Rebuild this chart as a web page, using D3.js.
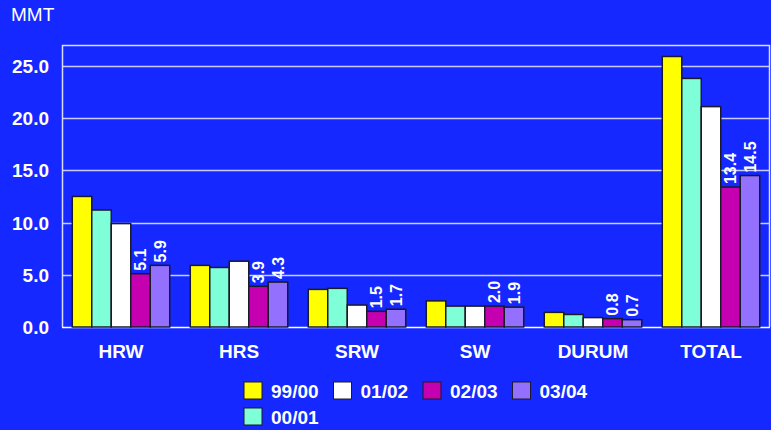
<!DOCTYPE html>
<html>
<head>
<meta charset="utf-8">
<script src="https://cdn.jsdelivr.net/npm/d3@7"></script>
<style>
  html, body { margin: 0; padding: 0; background: #1428FF; }
  svg { display: block; font-family: "Liberation Sans", Arial, sans-serif; }
</style>
</head>
<body>
<svg id="chart" width="771" height="430"></svg>
<script>
// Wheat classes and marketing years
const categories = ["HRW", "HRS", "SRW", "SW", "DURUM", "TOTAL"];
const seasons = ["99/00", "00/01", "01/02", "02/03", "03/04"];

// Values in million metric tons, one array per season
const v9900 = [12.5, 5.9, 3.6, 2.5, 1.4, 25.9];
const v0001 = [11.2, 5.7, 3.7, 2.0, 1.2, 23.8];
const v0102 = [9.9, 6.3, 2.1, 2.0, 0.9, 21.1];
const v0203 = [5.1, 3.9, 1.5, 2.0, 0.8, 13.4];
const v0304 = [5.9, 4.3, 1.7, 1.9, 0.7, 14.5];

const yTicks = [0, 5, 10, 15, 20, 25];
const labelledSeasons = ["02/03", "03/04"];

// Legend layout order: first row four entries, second row one
const legendRows = [["99/00", "01/02", "02/03", "03/04"], ["00/01"]];

const seriesValues = { "99/00": v9900, "00/01": v0001, "01/02": v0102, "02/03": v0203, "03/04": v0304 };
const colors = { "99/00": "#FFFF00", "00/01": "#7FFFD8", "01/02": "#FFFFFF", "02/03": "#C400B0", "03/04": "#9470FF" };

const svg = d3.select("#chart");
const W = 771, H = 430;
const plot = { left: 62, right: 770, top: 45, bottom: 327 };

svg.append("rect").attr("width", W).attr("height", H).attr("fill", "#1428FF");

const x = d3.scaleBand().domain(categories).range([plot.left, plot.right]).paddingInner(0.174).paddingOuter(0.087);
const xs = d3.scaleBand().domain(seasons).range([0, x.bandwidth()]);
const y = d3.scaleLinear().domain([0, 27]).range([plot.bottom, plot.top]);

// Gridlines
svg.append("g").selectAll("line").data(yTicks.filter(t => t > 0)).join("line")
  .attr("x1", plot.left).attr("x2", plot.right)
  .attr("y1", d => Math.round(y(d)) + 0.5).attr("y2", d => Math.round(y(d)) + 0.5)
  .attr("stroke", "#C8CEFF").attr("stroke-width", 1.5);

// Frame: top and right edges, left axis
svg.append("path")
  .attr("d", `M${plot.left + 0.5},${plot.bottom} V${plot.top + 0.5} H${plot.right - 0.5} V${plot.bottom}`)
  .attr("fill", "none").attr("stroke", "#D8DCFF").attr("stroke-width", 1.5);

// Baseline
svg.append("line").attr("x1", plot.left).attr("x2", plot.right)
  .attr("y1", y(0) + 0.5).attr("y2", y(0) + 0.5)
  .attr("stroke", "#FFFFFF").attr("stroke-width", 1.5);

// Y axis labels
const yAxis = d3.axisLeft(y).tickValues(yTicks).tickFormat(d3.format(".1f")).tickSize(0).tickPadding(13);
const ya = svg.append("g").attr("transform", `translate(${plot.left},0)`).call(yAxis);
ya.select(".domain").remove();
ya.selectAll("text").attr("fill", "#FFFFFF").attr("font-size", 19).attr("font-weight", "bold")
  .attr("font-family", "'Liberation Sans', Arial, sans-serif").attr("dy", "0.35em");

// Unit label
svg.append("text").attr("x", 11).attr("y", 21).attr("fill", "#FFFFFF")
  .attr("font-size", 19).text("MMT");

// X axis labels
const xAxis = d3.axisBottom(x).tickSize(0).tickPadding(18);
const xa = svg.append("g").attr("transform", `translate(0,${plot.bottom})`).call(xAxis);
xa.select(".domain").remove();
xa.selectAll("text").attr("fill", "#FFFFFF").attr("font-size", 19).attr("font-weight", "bold")
  .attr("font-family", "'Liberation Sans', Arial, sans-serif");

// Bars
const groups = svg.append("g").selectAll("g").data(categories).join("g")
  .attr("transform", d => `translate(${x(d)},0)`);

groups.selectAll("rect").data((c, i) => seasons.map(s => ({ s, v: seriesValues[s][i] }))).join("rect")
  .attr("x", d => xs(d.s))
  .attr("y", d => y(d.v))
  .attr("width", xs.bandwidth())
  .attr("height", d => y(0) - y(d.v))
  .attr("fill", d => colors[d.s])
  .attr("stroke", "#1A1A2A").attr("stroke-width", 1.5);

// Value labels on the two most recent seasons
groups.selectAll("text.val").data((c, i) => labelledSeasons.map(s => ({ s, v: seriesValues[s][i] }))).join("text")
  .attr("class", "val")
  .attr("transform", d => `translate(${xs(d.s) + xs.bandwidth() / 2 + 6},${y(d.v) - 3}) rotate(-90)`)
  .attr("fill", "#FFFFFF").attr("font-size", 16).attr("font-weight", "bold")
  .text(d => d3.format(".1f")(d.v));

// Legend
const legend = svg.append("g");
legendRows.forEach((row, r) => {
  row.forEach((s, k) => {
    const g = legend.append("g").attr("transform", `translate(${244 + k * 89.5},${382 + r * 26})`);
    g.append("rect").attr("width", 18).attr("height", 17).attr("fill", colors[s])
      .attr("stroke", "#1A1A2A").attr("stroke-width", 1);
    g.append("text").attr("x", 27).attr("y", 15.5).attr("fill", "#FFFFFF")
      .attr("font-size", 19).attr("font-weight", "bold").text(s);
  });
});
</script>
</body>
</html>
